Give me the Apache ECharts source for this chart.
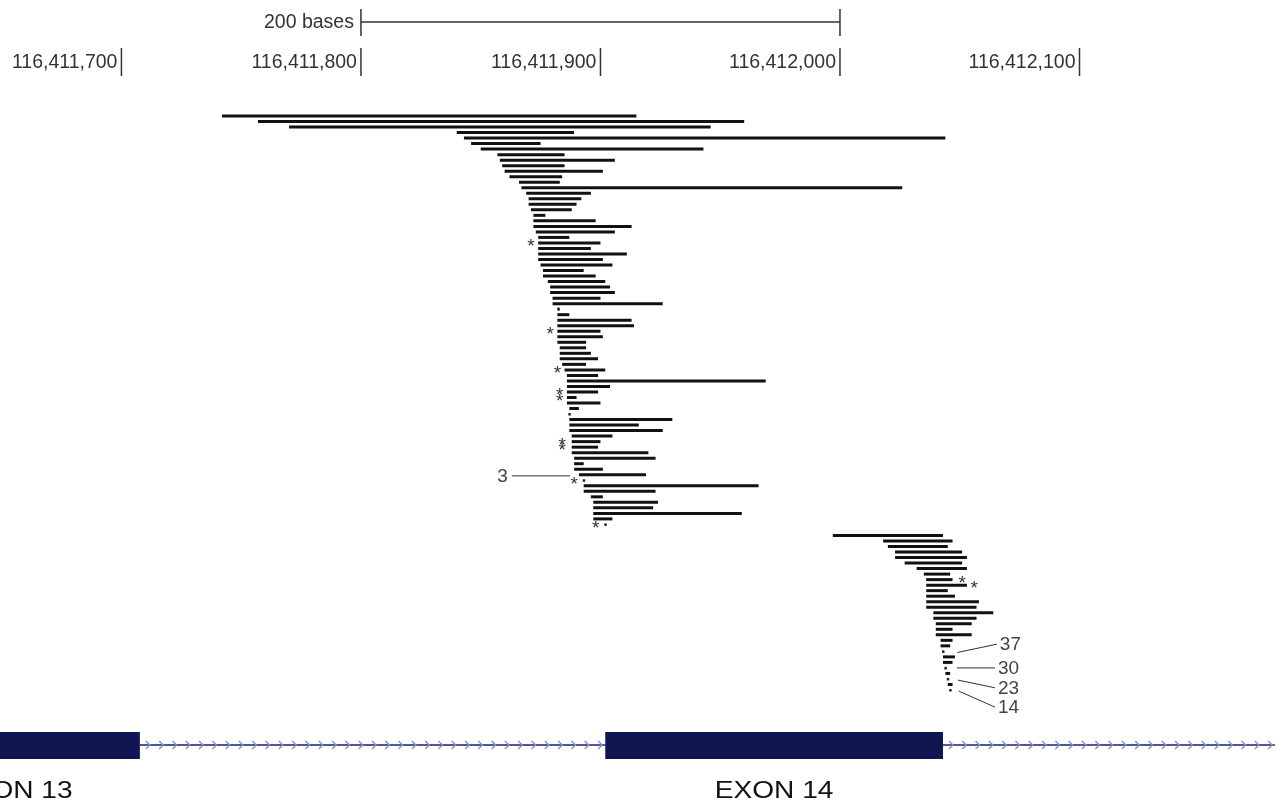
<!DOCTYPE html>
<html>
<head>
<meta charset="utf-8">
<script src="https://cdn.jsdelivr.net/npm/echarts@6/dist/echarts.min.js"></script>
<style>html,body{margin:0;padding:0;background:#fff}#c{width:1285px;height:808px}</style>
</head>
<body>
<div id="c"></div>
<script>
// ---- data (genomic coordinates, chr position) ----
const rulerTicks = [116411700, 116411800, 116411900, 116412000, 116412100];
const scaleBarStart = 116411800, scaleBarEnd = 116412000, scaleBarLabel = '200 bases';

// cluster 1: rows 0..74 (null = no bar on that row)
const cluster1FirstRow = 0;
const cluster1Starts = [116411742,116411757,116411770,116411840,116411843,116411846,116411850,116411857,116411858,116411859,
  116411860,116411862,116411866,116411867,116411869,116411870,116411870,116411871,116411872,116411872,
  116411872,116411873,116411874,116411874,116411874,116411874,116411874,116411875,116411876,116411876,
  116411878,116411879,116411879,116411880,116411880,116411882,116411882,116411882,116411882,116411882,
  116411882,116411882,116411883,116411883,116411883,116411884,116411885,116411886,116411886,116411886,
  116411886,116411886,116411886,116411887,null,116411887,116411887,116411887,116411888,116411888,
  116411888,116411888,116411889,116411889,116411889,116411891,null,116411893,116411893,116411896,
  116411897,116411897,116411897,116411897,null];
const cluster1Ends = [116411915,116411960,116411946,116411889,116412044,116411875,116411943,116411885,116411906,116411885,
  116411901,116411884,116411883,116412026,116411896,116411892,116411890,116411888,116411877,116411898,
  116411913,116411906,116411887,116411900,116411896,116411911,116411901,116411905,116411893,116411898,
  116411902,116411904,116411906,116411900,116411926,116411883,116411887,116411913,116411914,116411900,
  116411901,116411894,116411894,116411896,116411899,116411894,116411902,116411899,116411969,116411904,
  116411899,116411890,116411900,116411891,null,116411930,116411916,116411926,116411905,116411900,
  116411899,116411920,116411923,116411893,116411901,116411919,null,116411966,116411923,116411901,
  116411924,116411922,116411959,116411905,null];

// cluster 2: rows 76..104
const cluster2FirstRow = 76;
const cluster2Starts = [116411997,116412018,116412020,116412023,116412023,116412027,116412032,116412035,116412036,116412036,
  116412036,116412036,116412036,116412036,116412039,116412039,116412040,116412040,116412040,116412042,
  116412042,null,116412043,116412043,null,116412044,null,116412045,null];
const cluster2Ends = [116412043,116412047,116412045,116412051,116412053,116412051,116412053,116412046,116412047,116412053,
  116412045,116412048,116412058,116412057,116412064,116412057,116412055,116412047,116412055,116412047,
  116412046,null,116412048,116412047,null,116412046,null,116412047,null];

// single-base marks: [row, position]
const dotMarks = [[54,116411887],[66,116411893],[74,116411902],[97,116412043],[100,116412044],[102,116412045],[104,116412046]];
const asteriskMarks = [[23,116411871],[39,116411879],[46,116411882],[50,116411883],[51,116411883],[59,116411884],[60,116411884],
  [66,116411889],[74,116411898],[84,116412051],[85,116412056]];

// callouts: label, pointer end [pos,row], text end [pos,row]
const calloutLabels = ['3','37','30','23','14'];
const calloutFrom = [[116411887.3,65.2],[116412049,97.2],[116412048.8,100.0],[116412049.2,102.2],[116412049.6,104.2]];
const calloutTo   = [[116411863,65.2],[116412065.5,95.7],[116412064.7,100.0],[116412064.7,103.6],[116412064.7,107.1]];

// gene model
const exonNames  = ['EXON 13','EXON 14'];
const exonStarts = [116411602, 116411902];
const exonEnds   = [116411707.7, 116412043];
const intronStarts = [116411707.7, 116412043];
const intronEnds   = [116411902, 116412181.6];

// ---- build ----
function buildReads(first, starts, ends){
  const out = [];
  starts.forEach((s,i)=>{ if(s!==null) out.push([s, ends[i], first+i]); });
  return out;
}
const readData = buildReads(cluster1FirstRow, cluster1Starts, cluster1Ends)
  .concat(buildReads(cluster2FirstRow, cluster2Starts, cluster2Ends));

const FONT = 'Liberation Sans, Arial, sans-serif';
const chart = echarts.init(document.getElementById('c'), null, {renderer:'canvas'});

const option = {
  animation:false,
  backgroundColor:'#ffffff',
  grid:{left:0, right:0, top:116, bottom:118},
  xAxis:{type:'value', min:116411649.3, max:116412185.8, show:false},
  yAxis:{type:'value', min:0, max:104, inverse:true, show:false},
  series:[
    { // reads
      type:'custom', clip:false, data:readData, encode:{x:[0,1], y:2},
      renderItem(params, api){
        const a = api.coord([api.value(0), api.value(2)]);
        const b = api.coord([api.value(1), api.value(2)]);
        return {type:'rect', shape:{x:a[0], y:a[1]-1.5, width:Math.max(b[0]-a[0],2), height:3}, style:{fill:'#111'}};
      }
    },
    { // dots
      type:'custom', clip:false, data:dotMarks.map(d=>[d[1],d[0]]), encode:{x:0,y:1},
      renderItem(params, api){
        const a = api.coord([api.value(0), api.value(1)]);
        return {type:'rect', shape:{x:a[0]-1, y:a[1]-1, width:2.5, height:2.5}, style:{fill:'#222'}};
      }
    },
    { // asterisks
      type:'custom', clip:false, data:asteriskMarks.map(d=>[d[1],d[0]]), encode:{x:0,y:1},
      renderItem(params, api){
        const a = api.coord([api.value(0), api.value(1)]);
        return {type:'text', x:a[0], y:a[1]+4, style:{text:'*', fontSize:19, fontFamily:FONT, fill:'#333', align:'center', verticalAlign:'middle'}};
      }
    },
    { // callouts
      type:'custom', clip:false,
      data:calloutLabels.map((l,i)=>[calloutFrom[i][0],calloutFrom[i][1],calloutTo[i][0],calloutTo[i][1],i]),
      encode:{x:[0,2], y:[1,3]},
      renderItem(params, api){
        const a = api.coord([api.value(0), api.value(1)]);
        const b = api.coord([api.value(2), api.value(3)]);
        const i = api.value(4);
        const right = b[0] > a[0];
        return {type:'group', children:[
          {type:'line', shape:{x1:a[0],y1:a[1],x2:b[0],y2:b[1]}, style:{stroke:'#333', lineWidth:1}},
          {type:'text', x: right ? b[0]+3 : b[0]-4, y:b[1]+1,
           style:{text:calloutLabels[i], fontSize:19, fontFamily:FONT, fill:'#444', align: right?'left':'right', verticalAlign:'middle'}}
        ]};
      }
    },
    { // ruler
      type:'custom', clip:false, data:rulerTicks.map(t=>[t]), encode:{x:0},
      renderItem(params, api){
        const x = api.coord([api.value(0), 0])[0];
        return {type:'group', children:[
          {type:'line', shape:{x1:x,y1:48,x2:x,y2:76}, style:{stroke:'#333', lineWidth:1.5}},
          {type:'text', x:x-4, y:63, style:{text:echarts.format.addCommas(api.value(0)), fontSize:19.5, fontFamily:FONT, fill:'#333', align:'right', verticalAlign:'middle'}}
        ]};
      }
    },
    { // scale bar
      type:'custom', clip:false, data:[[scaleBarStart, scaleBarEnd]], encode:{x:[0,1]},
      renderItem(params, api){
        const x1 = api.coord([api.value(0), 0])[0];
        const x2 = api.coord([api.value(1), 0])[0];
        return {type:'group', children:[
          {type:'line', shape:{x1:x1,y1:22,x2:x2,y2:22}, style:{stroke:'#333', lineWidth:1.5}},
          {type:'line', shape:{x1:x1,y1:9,x2:x1,y2:36}, style:{stroke:'#333', lineWidth:1.5}},
          {type:'line', shape:{x1:x2,y1:9,x2:x2,y2:36}, style:{stroke:'#333', lineWidth:1.5}},
          {type:'text', x:x1-7, y:23, style:{text:scaleBarLabel, fontSize:19.5, fontFamily:FONT, fill:'#333', align:'right', verticalAlign:'middle'}}
        ]};
      }
    },
    { // introns with chevrons
      type:'custom', clip:false, data:intronStarts.map((s,i)=>[s, intronEnds[i]]), encode:{x:[0,1]},
      renderItem(params, api){
        const x1 = api.coord([api.value(0), 0])[0];
        const x2 = api.coord([api.value(1), 0])[0];
        const y = 745;
        const ch = [{type:'line', shape:{x1:x1,y1:y,x2:x2,y2:y}, style:{stroke:'#50569a', lineWidth:2}}];
        for(let cx = x1 + 9; cx < x2 - 3; cx += 13.3){
          ch.push({type:'polyline', shape:{points:[[cx-3,y-4],[cx+1,y],[cx-3,y+4]]}, style:{stroke:'#8a90c4', lineWidth:1.4, fill:null}});
        }
        return {type:'group', children:ch};
      }
    },
    { // exons
      type:'custom', clip:false, data:exonStarts.map((s,i)=>[s, exonEnds[i], i]), encode:{x:[0,1]},
      renderItem(params, api){
        const x1 = api.coord([api.value(0), 0])[0];
        const x2 = api.coord([api.value(1), 0])[0];
        const i = api.value(2);
        return {type:'group', children:[
          {type:'rect', shape:{x:x1, y:732, width:x2-x1, height:27}, style:{fill:'#0f1652'}},
          {type:'text', x:(x1+x2)/2, y:791, scaleX:1.17, style:{text:exonNames[i], fontSize:24, fontFamily:FONT, fill:'#111', align:'center', verticalAlign:'middle'}}
        ]};
      }
    }
  ]
};
chart.setOption(option);
</script>
</body>
</html>
